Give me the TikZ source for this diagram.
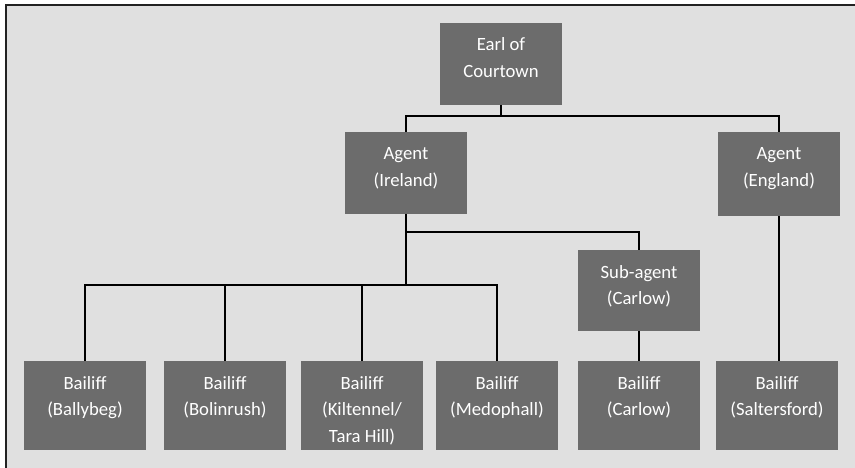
\documentclass[tikz,border=0pt]{standalone}
\usepackage{fontspec}
\setmainfont{Carlito}
\definecolor{boxgray}{HTML}{6C6C6C}
\definecolor{bggray}{HTML}{E0E0E0}
\definecolor{framecol}{HTML}{222222}
\newcommand{\boxtext}[2]{\parbox[t][#1][t]{122pt}{\centering\fontsize{18.7pt}{26.5pt}\selectfont\rule{0pt}{28pt}#2}}
\begin{document}
\begin{tikzpicture}[x=1pt,y=-1pt,
  orgbox/.style={fill=boxgray,text=white,inner sep=0pt,outer sep=0pt},
  conn/.style={draw=black,line width=1.3pt}]
\useasboundingbox (0,0) rectangle (855,468);
\fill[white] (0,0) rectangle (855,468);
\fill[bggray] (6,5) rectangle (855,468);
\draw[framecol,line width=1.6pt] (6,468) -- (6,5) -- (855,5);
% boxes
\node[orgbox] (earl) at (501,64) {\boxtext{82pt}{Earl of\\Courtown}};
\node[orgbox] (ire) at (406,173) {\boxtext{82pt}{Agent\\(Ireland)}};
\node[orgbox] (eng) at (779,174) {\boxtext{84pt}{Agent\\(England)}};
\node[orgbox] (sub) at (639,290.5) {\boxtext{81pt}{Sub-agent\\(Carlow)}};
\node[orgbox] (b1) at (85,405.5) {\boxtext{89pt}{Bailiff\\(Ballybeg)}};
\node[orgbox] (b2) at (225,405.5) {\boxtext{89pt}{Bailiff\\(Bolinrush)}};
\node[orgbox] (b3) at (362,405.5) {\boxtext{89pt}{Bailiff\\(Kiltennel/\\Tara Hill)}};
\node[orgbox] (b4) at (497,405.5) {\boxtext{89pt}{Bailiff\\(Medophall)}};
\node[orgbox] (b5) at (639,405.5) {\boxtext{89pt}{Bailiff\\(Carlow)}};
\node[orgbox] (b6) at (777,405.5) {\boxtext{89pt}{Bailiff\\(Saltersford)}};
% connectors
\draw[conn] (earl.south) -- ++(0,11) coordinate (j0) -| (ire.north);
\draw[conn] (j0) -| (eng.north);
\draw[conn] (ire.south) -- ++(0,18) coordinate (j1) -| (sub.north);
\draw[conn] (j1) -- ++(0,53) coordinate (j2) -| (b1.north);
\draw[conn] (j2) -| (b2.north);
\draw[conn] (j2) -| (b3.north);
\draw[conn] (j2) -| (b4.north);
\draw[conn] (sub.south) -- (b5.north);
\draw[conn] (eng.south) -- (eng.south |- b6.north);
\end{tikzpicture}
\end{document}
